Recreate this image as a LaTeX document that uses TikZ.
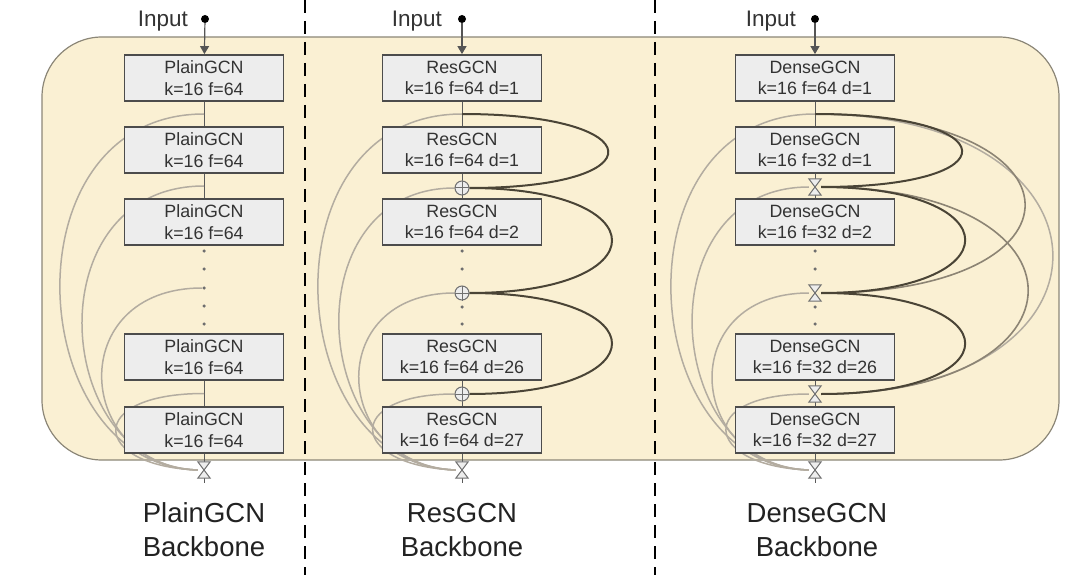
\documentclass[tikz,border=0pt]{standalone}
\usepackage{fontspec}
\setmainfont{Liberation Sans}
\usetikzlibrary{arrows.meta}
\definecolor{bgfill}{HTML}{FAF0D3}
\definecolor{bgline}{HTML}{8C8778}
\definecolor{boxfill}{HTML}{EDEDED}
\definecolor{boxline}{HTML}{4C4C4C}
\definecolor{txt}{HTML}{333333}
\definecolor{ttxt}{HTML}{222222}
\definecolor{darkarc}{HTML}{4A4436}
\definecolor{medarc}{HTML}{8C8474}
\definecolor{lightarc}{HTML}{B3ACA0}
\definecolor{symcol}{HTML}{707070}
\definecolor{vcol}{HTML}{5A5A5A}
\definecolor{dotcol}{HTML}{6E6E6E}
\definecolor{arrcol}{HTML}{555555}
\pgfdeclarelayer{bglayer}
\pgfdeclarelayer{arclayer}
\pgfsetlayers{bglayer,arclayer,main}
\newcommand\hglass[2]{\node[hgn] (#1) at #2 {};
  \path[hgline] (#1.north west) -- (#1.north east) -- (#1.south west) -- (#1.south east) -- cycle;}
\newcommand\sumnode[2]{\node[opl] (#1) at #2 {};
  \draw[symcol, line width=1pt] (#1.north) -- (#1.south) (#1.west) -- (#1.east);}
\begin{document}
\begin{tikzpicture}[x=1pt,y=-1pt,
 blk/.style={draw=boxline, line width=1.8pt, fill=boxfill, minimum width=159pt, minimum height=46pt,
   inner sep=0pt, align=center, font=\fontsize{17.8}{21.5}\selectfont, text=txt},
 lbl/.style={font=\fontsize{22.5}{26}\selectfont, text=txt, anchor=east, inner sep=0pt},
 ttl/.style={font=\fontsize{27.5}{34}\selectfont, text=ttxt, align=center},
 dotn/.style={circle, fill=dotcol, inner sep=0pt, minimum size=3.5pt},
 opl/.style={circle, draw=symcol, line width=1pt, fill=boxfill, inner sep=0pt, minimum size=14pt},
 hgn/.style={inner sep=0pt, minimum width=12pt, minimum height=16pt},
 hgline/.style={draw=symcol, line width=1pt, fill=boxfill},
 vcon/.style={draw=vcol, line width=1pt},
 darc/.style={draw=darkarc, line width=2pt},
 marc/.style={draw=medarc, line width=1.6pt},
 larc/.style={draw=lightarc, line width=1.5pt},
 inarrow/.style={draw=arrcol, line width=1.2pt, -{Triangle[length=8pt,width=9pt]}},
 indot/.style={circle, fill=black, inner sep=0pt, minimum size=8pt},
 dsh/.style={line width=2.6pt, dash pattern=on 13pt off 8pt}
]
\useasboundingbox (0,0) rectangle (1080,575);
\begin{pgfonlayer}{bglayer}
  \fill[white] (0,0) rectangle (1080,575);
  \draw[fill=bgfill, draw=bgline, line width=1.2pt, rounded corners=60pt] (42,37) rectangle (1059,460);
\end{pgfonlayer}

% ---------------- Column 1: PlainGCN ----------------
\node[blk] (P1) at (204,78)  {PlainGCN\\k=16 f=64};
\node[blk] (P2) at (204,150) {PlainGCN\\k=16 f=64};
\node[blk] (P3) at (204,222) {PlainGCN\\k=16 f=64};
\node[blk] (P4) at (204,357) {PlainGCN\\k=16 f=64};
\node[blk] (P5) at (204,430) {PlainGCN\\k=16 f=64};
\coordinate (PJ1) at (204,114);
\coordinate (PJ2) at (204,186);
\coordinate (PJ4) at (204,393.5);
\node[dotn] (PD1) at (204,251) {};
\node[dotn] (PD2) at (204,269) {};
\node[dotn] (PD3) at (204,288) {};
\node[dotn] (PD4) at (204,306) {};
\node[dotn] (PD5) at (204,324) {};
\hglass{PH}{(204,470)}
\coordinate (PO) at (204,483);
\node[indot] (PI) at (205,19) {};
\node[lbl] (PIL) at (188,21) {Input};
\node[ttl] (PT) at (204,530) {PlainGCN\\Backbone};

% ---------------- Column 2: ResGCN ----------------
\node[blk] (R1) at (462,78)  {ResGCN\\k=16 f=64 d=1};
\node[blk] (R2) at (462,150) {ResGCN\\k=16 f=64 d=1};
\node[blk] (R3) at (462,222) {ResGCN\\k=16 f=64 d=2};
\node[blk] (R4) at (462,357) {ResGCN\\k=16 f=64 d=26};
\node[blk] (R5) at (462,430) {ResGCN\\k=16 f=64 d=27};
\coordinate (RJ1) at (462,114);
\sumnode{RP1}{(462,188)}
\node[dotn] (RD1) at (462,251) {};
\node[dotn] (RD2) at (462,269) {};
\sumnode{RP2}{(462,293)}
\node[dotn] (RD4) at (462,307) {};
\node[dotn] (RD5) at (462,324) {};
\sumnode{RP3}{(462,394)}
\hglass{RH}{(462,470)}
\coordinate (RO) at (462,483);
\node[indot] (RI) at (462,19) {};
\node[lbl] (RIL) at (442,21) {Input};
\node[ttl] (RT) at (462,530) {ResGCN\\Backbone};

% ---------------- Column 3: DenseGCN ----------------
\node[blk] (D1) at (815,78)  {DenseGCN\\k=16 f=64 d=1};
\node[blk] (D2) at (815,150) {DenseGCN\\k=16 f=32 d=1};
\node[blk] (D3) at (815,222) {DenseGCN\\k=16 f=32 d=2};
\node[blk] (D4) at (815,357) {DenseGCN\\k=16 f=32 d=26};
\node[blk] (D5) at (815,430) {DenseGCN\\k=16 f=32 d=27};
\coordinate (DJ1) at (815,114);
\hglass{DH1}{(815,187)}
\node[dotn] (DD1) at (815,251) {};
\node[dotn] (DD2) at (815,269) {};
\hglass{DH2}{(815,293)}
\node[dotn] (DD4) at (815,307) {};
\node[dotn] (DD5) at (815,324) {};
\hglass{DH3}{(815,394)}
\hglass{DH}{(815,470)}
\coordinate (DO) at (815,483);
\node[indot] (DI) at (815,19) {};
\node[lbl] (DIL) at (796,21) {Input};
\node[ttl] (DT) at (817,530) {DenseGCN\\Backbone};

% ---------------- connectors ----------------
\begin{pgfonlayer}{arclayer}
  % vertical links
  \draw[vcon] (P1) -- (P2);
  \draw[vcon] (P2) -- (P3);
  \draw[vcon] (P4) -- (P5);
  \draw[vcon] (P5) -- (PH);
  \draw[vcon] (PH) -- (PO);
  \draw[vcon] (R1) -- (R2);
  \draw[vcon] (R2) -- (RP1);
  \draw[vcon] (RP1) -- (R3);
  \draw[vcon] (R4) -- (RP3);
  \draw[vcon] (RP3) -- (R5);
  \draw[vcon] (R5) -- (RH);
  \draw[vcon] (RH) -- (RO);
  \draw[vcon] (D1) -- (D2);
  \draw[vcon] (D2) -- (DH1);
  \draw[vcon] (DH1) -- (D3);
  \draw[vcon] (D4) -- (DH3);
  \draw[vcon] (DH3) -- (D5);
  \draw[vcon] (D5) -- (DH);
  \draw[vcon] (DH) -- (DO);
  % left light arcs, column 1
  \draw[larc] (PJ1) .. controls +(-200,0) and +(-176,-4) .. (PH.west);
  \draw[larc] (PJ2) .. controls +(-170,0) and +(-147,-4) .. (PH.west);
  \draw[larc] (PD3) .. controls +(-140,0) and +(-124,-4) .. (PH.west);
  \draw[larc] (PJ4) .. controls +(-120,0) and +(-107,-4) .. (PH.west);
  % left light arcs, column 2
  \draw[larc] (RJ1) .. controls +(-200,0) and +(-176,-4) .. (RH.west);
  \draw[larc] (RP1.west) .. controls +(-163,0) and +(-147,-4) .. (RH.west);
  \draw[larc] (RP2.west) .. controls +(-133,0) and +(-124,-4) .. (RH.west);
  \draw[larc] (RP3.west) .. controls +(-113,0) and +(-107,-4) .. (RH.west);
  % left light arcs, column 3
  \draw[larc] (DJ1) .. controls +(-200,0) and +(-176,-4) .. (DH.west);
  \draw[larc] (DH1.west) .. controls +(-164,0) and +(-147,-4) .. (DH.west);
  \draw[larc] (DH2.west) .. controls +(-134,0) and +(-124,-4) .. (DH.west);
  \draw[larc] (DH3.west) .. controls +(-114,0) and +(-107,-4) .. (DH.west);
  % right dense arcs, column 3
  \draw[larc] (DJ1) .. controls +(313,0) and +(313,0) .. (DH3.east);
  \draw[marc] (DJ1) .. controls +(276,0) and +(276,0) .. (DH2.east);
  \draw[marc] (DH1.east) .. controls +(276,0) and +(276,0) .. (DH3.east);
  % right dark arcs
  \draw[darc] (RJ1) .. controls +(190,0) and +(190,0) .. (RP1.east);
  \draw[darc] (RP1.east) .. controls +(190,0) and +(190,0) .. (RP2.east);
  \draw[darc] (RP2.east) .. controls +(190,0) and +(190,0) .. (RP3.east);
  \draw[darc] (DJ1) .. controls +(192,0) and +(192,0) .. (DH1.east);
  \draw[darc] (DH1.east) .. controls +(192,0) and +(192,0) .. (DH2.east);
  \draw[darc] (DH2.east) .. controls +(192,0) and +(192,0) .. (DH3.east);
\end{pgfonlayer}

% input arrows
\draw[inarrow] (PI) -- (P1);
\draw[inarrow] (RI) -- (R1);
\draw[inarrow] (DI) -- (D1);

% dashed separators
\coordinate (S1t) at (305,0);
\coordinate (S1b) at (305,575);
\coordinate (S2t) at (655,0);
\coordinate (S2b) at (655,575);
\draw[dsh] (S1t) -- (S1b);
\draw[dsh] (S2t) -- (S2b);
\end{tikzpicture}
\end{document}
